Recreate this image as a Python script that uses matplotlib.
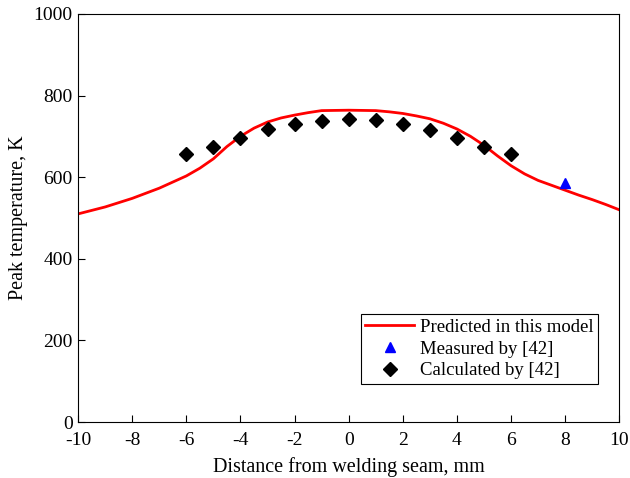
import matplotlib
matplotlib.use('agg')
import matplotlib.pyplot as plt

plt.rcParams['font.family'] = ['Liberation Serif', 'DejaVu Serif']
plt.rcParams['axes.unicode_minus'] = False

# predicted curve
pred_x = [-10, -9, -8, -7, -6, -5.5, -5, -4.5, -4, -3.5, -3, -2.5, -2, -1.5, -1,
          0, 1, 1.5, 2, 2.5, 3, 3.5, 4, 4.5, 5, 5.5, 6, 6.5, 7, 7.5, 8, 8.5, 9, 9.5, 10]
pred_y = [510, 527, 548, 573, 603, 622, 645, 675, 700, 720, 735, 745, 752, 758, 763,
          764, 763, 760, 756, 750, 743, 732, 718, 700, 678, 652, 628, 608, 592, 580,
          568, 556, 545, 533, 520]

# measured by [42]
meas_x = [8]
meas_y = [585]

# calculated by [42]
calc_x = [-6, -5, -4, -3, -2, -1, 0, 1, 2, 3, 4, 5, 6]
calc_y = [657, 674, 696, 718, 730, 738, 742, 740, 730, 716, 696, 674, 657]

fig = plt.figure(figsize=(6.3, 4.78), dpi=100)
ax = fig.add_axes([0.124, 0.117, 0.859, 0.854])

ax.plot(pred_x, pred_y, color='red', lw=2, label='Predicted in this model')
ax.plot(meas_x, meas_y, ls='none', marker='^', color='blue', ms=7.5, label='Measured by [42]')
ax.plot(calc_x, calc_y, ls='none', marker='D', color='black', ms=7, label='Calculated by [42]')

ax.set_xlim(-10, 10)
ax.set_ylim(0, 1000)
ax.set_xticks(range(-10, 11, 2))
ax.set_yticks(range(0, 1001, 200))
ax.tick_params(direction='in', labelsize=14, length=5)
ax.tick_params(axis='x', pad=7)
ax.tick_params(axis='y', pad=4)
ax.set_xlabel('Distance from welding seam, mm', fontsize=14.5, labelpad=6)
ax.set_ylabel('Peak temperature, K', fontsize=14.5, labelpad=4)

leg = ax.legend(loc='lower right', bbox_to_anchor=(0.978, 0.07), fontsize=13.5,
                fancybox=False, edgecolor='black', framealpha=1,
                handlelength=2.6, handletextpad=0.3, borderpad=0.25, labelspacing=0.25)
leg.get_frame().set_linewidth(0.8)

plt.savefig('out.png', dpi=100)
plt.close()
